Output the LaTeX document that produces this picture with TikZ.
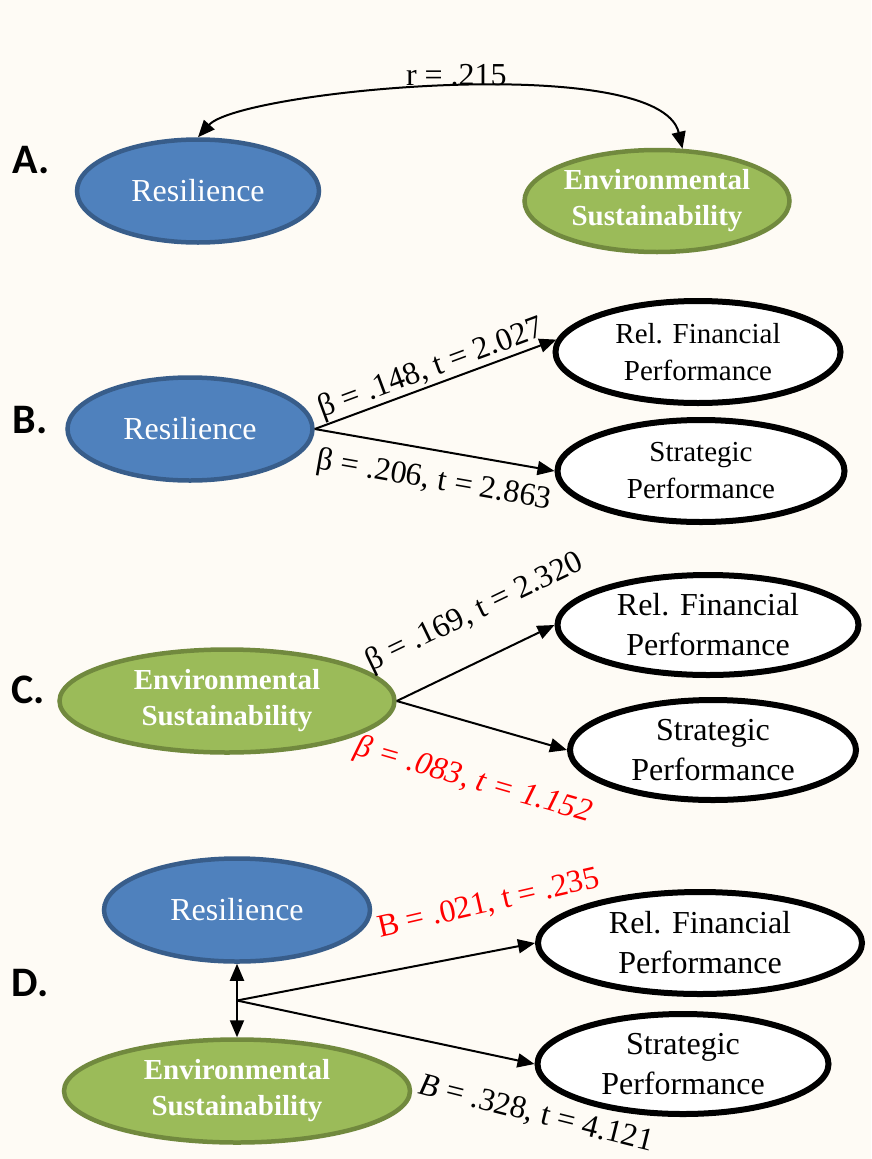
\documentclass[tikz,border=0pt]{standalone}
\usepackage{fontspec}
\setmainfont{Liberation Serif}
\newfontfamily\panelfont{Carlito}
\usetikzlibrary{arrows.meta,shapes.geometric,positioning,calc}

\definecolor{paper}{RGB}{254,251,245}
\definecolor{resfill}{RGB}{79,129,189}
\definecolor{resline}{RGB}{56,93,138}
\definecolor{envfill}{RGB}{155,187,89}
\definecolor{envline}{RGB}{113,137,62}

\tikzset{
    resnode/.style={
           ellipse,
           draw=resline, fill=resfill, line width=4.5pt,
           inner sep=0pt,
           text=white,
           font=\fontsize{32}{38}\selectfont,
           },
    envnode/.style={
           ellipse,
           draw=envline, fill=envfill, line width=4.5pt,
           inner sep=0pt,
           text=white, align=center,
           font=\bfseries\fontsize{29}{36}\selectfont,
           },
    outnode/.style={
           ellipse,
           draw=black, fill=white, line width=6pt,
           inner sep=0pt,
           align=center,
           font=\fontsize{32}{40}\selectfont,
           },
    coef/.style={sloped, font=\fontsize{32}{38}\selectfont},
    panel/.style={font=\panelfont\bfseries\fontsize{42}{50}\selectfont},
}

\begin{document}
\begin{tikzpicture}[x=1pt,y=-1pt,->,>={Triangle[length=17pt,width=14pt]},line width=2pt]

 % page background, also fixes the size
 \fill[paper] (0,0) rectangle (871,1159);
 \useasboundingbox (0,0) rectangle (871,1159);

 % A: correlation between the two predictors
 \node[panel] (LBL_A) at (31,160) {A.};
 \node[resnode, minimum width=242pt, minimum height=103pt] (RES_A) at (198,191) {Resilience};
 \node[envnode,
 minimum width=265pt, minimum height=102pt,
 right of=RES_A,        % next to RES_A
 node distance=459pt,
 yshift=-10pt] (ENV_A)
 {Environmental\\Sustainability};

 \draw[<->] (RES_A.north) .. controls +(42,-47) and +(-23,-98) .. (ENV_A.64)
   node[pos=0.5, above, inner sep=2pt, xshift=9pt, font=\fontsize{32}{38}\selectfont] {r = .215};

 % B: Resilience on both outcomes
 \node[panel] (LBL_B) at (30,420) {B.};
 \node[resnode, minimum width=245pt, minimum height=103pt] (RES_B) at (190,429) {Resilience};
 \node[outnode,
 minimum width=285pt, minimum height=102pt,
 font=\fontsize{29}{37}\selectfont,
 right of=RES_B,
 node distance=508pt,
 yshift=77pt] (REL_B)
 {Rel. Financial\\Performance};
 \node[outnode,
 minimum width=287pt, minimum height=102pt,
 font=\fontsize{29}{37}\selectfont,
 below of=REL_B,
 node distance=119pt,
 xshift=3pt] (STR_B)
 {Strategic\\Performance};

 \path (RES_B.east) edge node[coef, above, pos=0.505, inner sep=0pt] {β = .148, t = 2.027} (REL_B.175)
       (RES_B.east) edge node[coef, below, pos=0.52, inner sep=15pt] {β = .206, t = 2.863} (STR_B.west);

 % C: Environmental Sustainability on both outcomes
 \node[panel] (LBL_C) at (28,690) {C.};
 \node[envnode, minimum width=335pt, minimum height=103pt] (ENV_C) at (227,701) {Environmental\\Sustainability};
 \node[outnode,
 minimum width=301pt, minimum height=100pt,
 right of=ENV_C,
 node distance=481pt,
 yshift=76pt] (REL_C)
 {Rel. Financial\\Performance};
 \node[outnode,
 minimum width=286pt, minimum height=100pt,
 below of=REL_C,
 node distance=125pt,
 xshift=5pt] (STR_C)
 {Strategic\\Performance};

 \path (ENV_C.east) edge node[coef, above, pos=0.62, inner sep=30pt] {β = .169, t = 2.320} (REL_C.west)
       (ENV_C.east) edge node[coef, below, pos=0.54, inner sep=40pt, text=red] {\itshape β = .083, t = 1.152} (STR_C.west);

 % D: both predictors together
 \node[panel] (LBL_D) at (30,983) {D.};
 \node[resnode, minimum width=266pt, minimum height=103pt] (RES_D) at (237,910) {Resilience};
 \node[envnode,
 minimum width=346pt, minimum height=103pt,
 below of=RES_D,
 node distance=181pt] (ENV_D)
 {Environmental\\Sustainability};
 \node[outnode,
 minimum width=324pt, minimum height=102pt,
 right of=RES_D,
 node distance=463pt,
 yshift=-33pt] (REL_D)
 {Rel. Financial\\Performance};
 \node[outnode,
 minimum width=291pt, minimum height=100pt,
 below of=REL_D,
 node distance=121pt,
 xshift=-17pt] (STR_D)
 {Strategic\\Performance};

 \draw[<->] (RES_D) -- (ENV_D);
 \coordinate (JOINT) at ($(RES_D.south)!0.5!(ENV_D.north)$);

 \path (JOINT) edge node[coef, above, pos=0.88, inner sep=33pt, text=red, rotate=2] {B = .021, t = .235} (REL_D.west)
       (JOINT) edge node[coef, below, pos=1.045, inner sep=35pt, rotate=-2] {\textit{B} = .328, t = 4.121} (STR_D.west);
\end{tikzpicture}
\end{document}
